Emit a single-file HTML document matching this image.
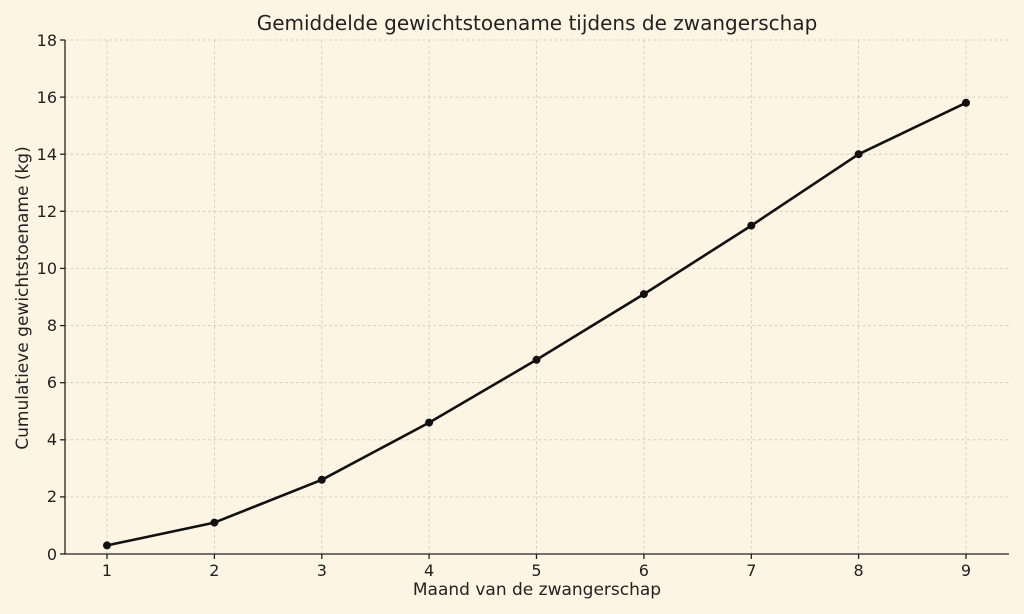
<!DOCTYPE html>
<html><head><meta charset="utf-8"><style>
html,body{margin:0;padding:0;background:#fdf5e3;}
svg{display:block;font-family:"DejaVu Sans","Liberation Sans",sans-serif;}
</style></head><body>
<svg width="1024" height="614" viewBox="0 0 1024 614" xmlns="http://www.w3.org/2000/svg">
<rect width="1024" height="614" fill="#fdf5e3"/>
<g stroke="#cfcac0" stroke-width="0.8" stroke-dasharray="3,2.5">
<line x1="107" y1="40" x2="107" y2="554"/>
<line x1="214.4" y1="40" x2="214.4" y2="554"/>
<line x1="321.8" y1="40" x2="321.8" y2="554"/>
<line x1="429.1" y1="40" x2="429.1" y2="554"/>
<line x1="536.5" y1="40" x2="536.5" y2="554"/>
<line x1="643.9" y1="40" x2="643.9" y2="554"/>
<line x1="751.3" y1="40" x2="751.3" y2="554"/>
<line x1="858.6" y1="40" x2="858.6" y2="554"/>
<line x1="966" y1="40" x2="966" y2="554"/>
<line x1="65" y1="40" x2="1009" y2="40"/>
<line x1="65" y1="97.1" x2="1009" y2="97.1"/>
<line x1="65" y1="154.2" x2="1009" y2="154.2"/>
<line x1="65" y1="211.3" x2="1009" y2="211.3"/>
<line x1="65" y1="268.4" x2="1009" y2="268.4"/>
<line x1="65" y1="325.6" x2="1009" y2="325.6"/>
<line x1="65" y1="382.7" x2="1009" y2="382.7"/>
<line x1="65" y1="439.8" x2="1009" y2="439.8"/>
<line x1="65" y1="496.9" x2="1009" y2="496.9"/>
</g>
<g stroke="#222" stroke-width="1.3">
<line x1="65" y1="40" x2="65" y2="554.6"/>
<line x1="64.4" y1="554" x2="1009" y2="554"/>
<line x1="60" y1="40" x2="65" y2="40"/><line x1="60" y1="97.1" x2="65" y2="97.1"/>
<line x1="60" y1="154.2" x2="65" y2="154.2"/><line x1="60" y1="211.3" x2="65" y2="211.3"/>
<line x1="60" y1="268.4" x2="65" y2="268.4"/><line x1="60" y1="325.6" x2="65" y2="325.6"/>
<line x1="60" y1="382.7" x2="65" y2="382.7"/><line x1="60" y1="439.8" x2="65" y2="439.8"/>
<line x1="60" y1="496.9" x2="65" y2="496.9"/><line x1="60" y1="554" x2="65" y2="554"/>
<line x1="107" y1="554" x2="107" y2="559"/><line x1="214.4" y1="554" x2="214.4" y2="559"/>
<line x1="321.8" y1="554" x2="321.8" y2="559"/><line x1="429.1" y1="554" x2="429.1" y2="559"/>
<line x1="536.5" y1="554" x2="536.5" y2="559"/><line x1="643.9" y1="554" x2="643.9" y2="559"/>
<line x1="751.3" y1="554" x2="751.3" y2="559"/><line x1="858.6" y1="554" x2="858.6" y2="559"/>
<line x1="966" y1="554" x2="966" y2="559"/>
</g>
<g font-size="16" fill="#222" text-anchor="end">
<text x="57" y="46">18</text><text x="57" y="103">16</text><text x="57" y="160">14</text>
<text x="57" y="217">12</text><text x="57" y="274">10</text><text x="57" y="331">8</text>
<text x="57" y="388">6</text><text x="57" y="445">4</text><text x="57" y="502">2</text>
<text x="57" y="560">0</text>
</g>
<g font-size="16" fill="#222" text-anchor="middle">
<text x="107" y="576">1</text><text x="214.4" y="576">2</text><text x="321.8" y="576">3</text>
<text x="429.1" y="576">4</text><text x="536.5" y="576">5</text><text x="643.9" y="576">6</text>
<text x="751.3" y="576">7</text><text x="858.6" y="576">8</text><text x="966" y="576">9</text>
<text x="537" y="595" font-size="17">Maand van de zwangerschap</text>
<text x="537" y="30" font-size="20">Gemiddelde gewichtstoename tijdens de zwangerschap</text>
<text transform="translate(28,298) rotate(-90)" font-size="17">Cumulatieve gewichtstoename (kg)</text>
</g>
<polyline fill="none" stroke="#111" stroke-width="2.6" stroke-linejoin="round"
points="107,545.4 214.4,522.6 321.8,479.8 429.1,422.6 536.5,359.8 643.9,294.1 751.3,225.6 858.6,154.2 966,102.8"/>
<g fill="#111">
<circle cx="107" cy="545.4" r="4"/><circle cx="214.4" cy="522.6" r="4"/><circle cx="321.8" cy="479.8" r="4"/>
<circle cx="429.1" cy="422.6" r="4"/><circle cx="536.5" cy="359.8" r="4"/><circle cx="643.9" cy="294.1" r="4"/>
<circle cx="751.3" cy="225.6" r="4"/><circle cx="858.6" cy="154.2" r="4"/><circle cx="966" cy="102.8" r="4"/>
</g>
</svg>
</body></html>
